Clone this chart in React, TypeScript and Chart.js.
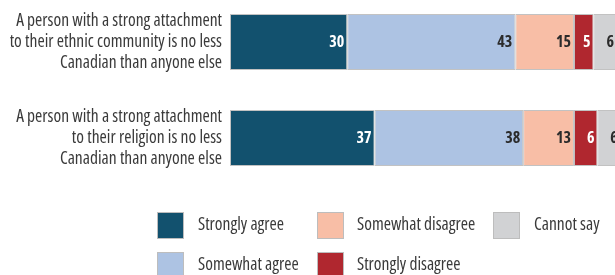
import React, { useEffect, useRef } from "react";
import { Chart, registerables } from "chart.js";

Chart.register(...registerables);

const categories: string[][] = [
  ["A person with a strong attachment", "to their ethnic community is no less", "Canadian than anyone else"],
  ["A person with a strong attachment", "to their religion is no less", "Canadian than anyone else"],
];
const seriesNames = ["Strongly agree", "Somewhat agree", "Somewhat disagree", "Strongly disagree", "Cannot say"];
const stronglyAgree = [30, 37];
const somewhatAgree = [43, 38];
const somewhatDisagree = [15, 13];
const stronglyDisagree = [5, 6];
const cannotSay = [6, 6];
const seriesValues = [stronglyAgree, somewhatAgree, somewhatDisagree, stronglyDisagree, cannotSay];
const seriesColors = ["#12516e", "#adc3e3", "#f8bea6", "#b0272f", "#d1d2d4"];
const labelColors = ["#ffffff", "#2b2b2b", "#2b2b2b", "#ffffff", "#2b2b2b"];

const FONT = "'Open Sans', sans-serif";

const valueLabels = {
  id: "valueLabels",
  afterDatasetsDraw(chart: any) {
    const ctx = chart.ctx;
    const area = chart.chartArea;
    ctx.save();
    ctx.beginPath();
    ctx.rect(area.left, area.top, area.right - area.left, area.bottom - area.top);
    ctx.clip();
    ctx.font = `bold condensed 16px ${FONT}`;
    ctx.textAlign = "right";
    ctx.textBaseline = "middle";
    chart.data.datasets.forEach((ds: any, di: number) => {
      const meta = chart.getDatasetMeta(di);
      meta.data.forEach((bar: any, i: number) => {
        ctx.fillStyle = labelColors[di];
        ctx.fillText(String(ds.data[i]), bar.x - 3, bar.y);
      });
    });
    ctx.restore();
  },
};

const customLegend = {
  id: "customLegend",
  afterDraw(chart: any) {
    const ctx = chart.ctx;
    const colX = [157, 317, 493];
    const textX = [198, 357, 534];
    const rowY = [218, 258];
    const size = 27;
    ctx.save();
    ctx.font = `condensed 17.5px ${FONT}`;
    ctx.textAlign = "left";
    ctx.textBaseline = "middle";
    chart.data.datasets.forEach((ds: any, i: number) => {
      const col = Math.floor(i / 2);
      const row = i % 2;
      const x = colX[col];
      const y = rowY[row];
      ctx.fillStyle = ds.backgroundColor;
      ctx.fillRect(x, y, size, size);
      ctx.strokeStyle = "#bdbdbd";
      ctx.lineWidth = 1;
      ctx.strokeRect(x + 0.5, y + 0.5, size - 1, size - 1);
      ctx.fillStyle = "#3a3a3a";
      ctx.fillText(ds.label, textX[col], y + size / 2);
    });
    ctx.restore();
  },
};

export default function App() {
  const ref = useRef<HTMLCanvasElement>(null);
  useEffect(() => {
    if (!ref.current) return;
    const chart = new Chart(ref.current, {
      type: "bar",
      data: {
        labels: categories,
        datasets: seriesNames.map((name, i) => ({
          label: name,
          data: seriesValues[i],
          backgroundColor: seriesColors[i],
          borderColor: "#c2c2c2",
          borderWidth: 1,
          borderSkipped: false,
          categoryPercentage: 1,
          barPercentage: 56 / 96,
        })),
      },
      options: {
        indexAxis: "y",
        animation: false,
        responsive: false,
        layout: { padding: { top: 0, right: 0, bottom: 89, left: 0 } },
        plugins: { legend: { display: false }, tooltip: { enabled: false } },
        scales: {
          x: { display: false, stacked: true, min: 0, max: 98.5 },
          y: {
            stacked: true,
            grid: { display: false, drawTicks: false },
            border: { display: false },
            afterFit: (s: any) => {
              s.width = 230;
              s.paddingTop = 0;
              s.paddingBottom = 0;
            },
            ticks: {
              padding: 8,
              color: "#3a3a3a",
              font: { family: FONT, size: 17.5, weight: "condensed", lineHeight: 1.2 },
            },
          },
        },
      },
      plugins: [valueLabels, customLegend],
    } as any);
    return () => chart.destroy();
  }, []);
  return (
    <canvas
      ref={ref}
      width={615}
      height={281}
      style={{ position: "absolute", left: 0, top: -6, width: 615, height: 281 }}
    />
  );
}
